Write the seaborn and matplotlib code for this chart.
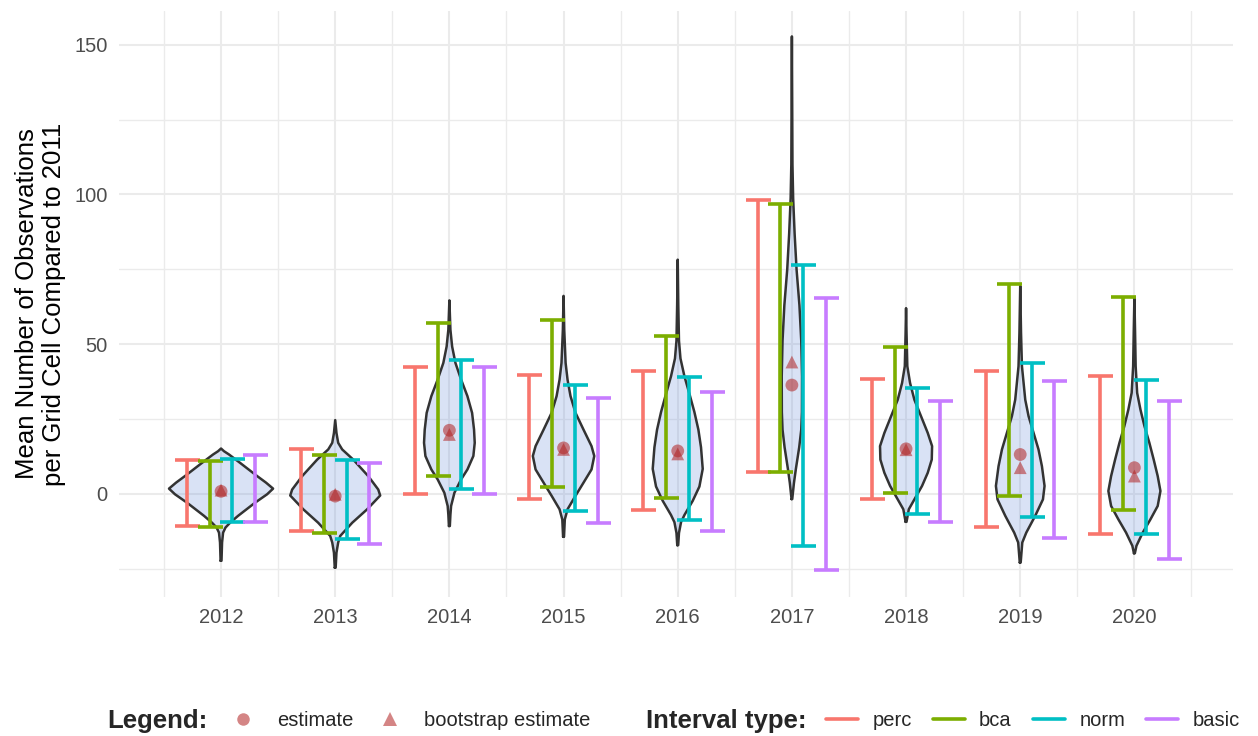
import numpy as np
import pandas as pd
import matplotlib
matplotlib.use("Agg")
import matplotlib.pyplot as plt
from matplotlib.lines import Line2D
import seaborn as sns

# ---------------- data ----------------
years = ["2012", "2013", "2014", "2015", "2016", "2017", "2018", "2019", "2020"]

estimate = [0.8, -0.8, 21.2, 15.3, 14.3, 36.3, 15.0, 13.1, 8.7]
boot_estimate = [1.2, -0.2, 19.8, 14.8, 13.3, 44.0, 14.7, 8.7, 5.9]

perc_low = [-10.8, -12.4, 0.0, -1.9, -5.4, 7.4, -1.9, -11.2, -13.6]
perc_high = [11.2, 14.8, 42.2, 39.8, 41.0, 98.3, 38.3, 41.0, 39.3]
bca_low = [-11.0, -13.0, 5.8, 2.3, -1.5, 7.4, 0.3, -0.8, -5.4]
bca_high = [10.9, 13.1, 57.2, 58.0, 52.6, 96.7, 48.9, 70.0, 65.8]
norm_low = [-9.3, -15.0, 1.6, -5.8, -8.7, -17.5, -6.7, -7.7, -13.6]
norm_high = [11.7, 11.2, 44.7, 36.2, 38.9, 76.5, 35.2, 43.7, 37.9]
basic_low = [-9.3, -16.9, 0.0, -9.9, -12.5, -25.6, -9.3, -14.7, -21.9]
basic_high = [12.8, 10.3, 42.2, 31.9, 33.9, 65.4, 31.1, 37.6, 31.0]

interval_types = ["perc", "bca", "norm", "basic"]

# violin density profiles (value level, half-width in category units)
v2012_y = [-22.4, -16.3, -13.0, -11.3, -9.7, -7.4, -3.0, -0.2, 1.7, 3.7, 5.9, 10.3, 13.1, 14.2, 15.1]
v2012_w = [0.004, 0.009, 0.018, 0.039, 0.079, 0.149, 0.298, 0.403, 0.456, 0.394, 0.316, 0.167, 0.070, 0.026, 0.0]
v2013_y = [-24.7, -19.7, -16.3, -14.1, -9.7, -5.2, -0.6, 1.4, 5.9, 11.4, 14.8, 17.0, 20.3, 24.6]
v2013_w = [0.004, 0.011, 0.026, 0.044, 0.149, 0.280, 0.394, 0.377, 0.289, 0.158, 0.061, 0.026, 0.011, 0.0]
v2014_y = [-10.8, -7.0, -4.1, 0.3, 4.8, 8.1, 12.6, 17.0, 21.4, 27.0, 32.6, 38.1, 43.7, 49.2, 54.8, 64.6]
v2014_w = [0.004, 0.009, 0.015, 0.044, 0.103, 0.158, 0.210, 0.222, 0.216, 0.199, 0.158, 0.103, 0.053, 0.024, 0.009, 0.0]
v2015_y = [-14.4, -8.6, -5.2, -0.8, 3.7, 8.1, 12.6, 15.9, 21.4, 27.0, 32.6, 38.1, 43.7, 54.8, 66.1]
v2015_w = [0.004, 0.011, 0.035, 0.103, 0.175, 0.245, 0.269, 0.245, 0.175, 0.105, 0.061, 0.035, 0.018, 0.006, 0.0]
v2016_y = [-17.2, -13.1, -9.5, -7.1, -2.4, 2.4, 8.3, 15.5, 21.4, 27.3, 33.3, 39.2, 45.2, 51.1, 63.0, 78.2]
v2016_w = [0.004, 0.011, 0.029, 0.059, 0.131, 0.190, 0.219, 0.204, 0.181, 0.146, 0.103, 0.059, 0.024, 0.011, 0.005, 0.0]
v2017_y = [-1.8, 3.6, 8.3, 15.5, 21.4, 27.3, 39.2, 51.1, 63.0, 74.9, 86.8, 98.7, 110.0, 152.8]
v2017_w = [0.003, 0.018, 0.035, 0.064, 0.082, 0.088, 0.089, 0.082, 0.066, 0.041, 0.024, 0.011, 0.005, 0.0]
v2018_y = [-9.4, -5.2, -1.9, 2.6, 7.0, 11.4, 15.9, 20.3, 25.9, 31.4, 37.0, 42.6, 53.7, 62.0]
v2018_w = [0.004, 0.024, 0.073, 0.140, 0.190, 0.225, 0.228, 0.190, 0.131, 0.073, 0.035, 0.011, 0.004, 0.0]
v2019_y = [-23.0, -16.3, -13.0, -7.4, -1.9, 2.6, 9.2, 14.8, 20.3, 25.9, 31.4, 42.6, 53.7, 69.4]
v2019_w = [0.004, 0.018, 0.053, 0.131, 0.199, 0.213, 0.190, 0.160, 0.117, 0.073, 0.044, 0.015, 0.007, 0.0]
v2020_y = [-19.9, -17.4, -13.0, -8.6, -4.1, 0.9, 5.9, 11.4, 17.0, 22.6, 28.1, 33.7, 42.6, 53.7, 65.4]
v2020_w = [0.004, 0.018, 0.073, 0.140, 0.204, 0.228, 0.204, 0.169, 0.131, 0.088, 0.053, 0.024, 0.011, 0.006, 0.0]

violin_levels = [v2012_y, v2013_y, v2014_y, v2015_y, v2016_y, v2017_y, v2018_y, v2019_y, v2020_y]
violin_widths = [v2012_w, v2013_w, v2014_w, v2015_w, v2016_w, v2017_w, v2018_w, v2019_w, v2020_w]

# ---------------- style ----------------
sns.set_theme(style="white")
plt.rcParams["font.family"] = ["Liberation Sans", "DejaVu Sans"]

interval_colors = ["#F8766D", "#7CAE00", "#00BFC4", "#C77CFF"]
interval_offsets = [-0.3, -0.1, 0.1, 0.3]
point_color = "#B22222"
point_alpha = 0.55
violin_fill = "#6A8FD8"
grid_color = "#EBEBEB"
tick_color = "#4D4D4D"

fig = plt.figure(figsize=(12.58, 7.36), dpi=100)
ax = fig.add_axes([0.0943, 0.1889, 0.8855, 0.7962])

pos = np.arange(len(years))

# violins
for i in range(len(years)):
    yv = np.array(violin_levels[i])
    wv = np.array(violin_widths[i])
    ax.fill_betweenx(yv, pos[i] - wv, pos[i] + wv, color=violin_fill, alpha=0.25,
                     lw=0, zorder=2)
    ox = np.concatenate([pos[i] - wv, (pos[i] + wv)[::-1], [pos[i] - wv[0]]])
    oy = np.concatenate([yv, yv[::-1], [yv[0]]])
    ax.plot(ox, oy, color="#333333", lw=1.8, zorder=2.5, solid_joinstyle="round")

# error bars
lows = [perc_low, bca_low, norm_low, basic_low]
highs = [perc_high, bca_high, norm_high, basic_high]
for k, name in enumerate(interval_types):
    lo = np.array(lows[k])
    hi = np.array(highs[k])
    mid = (lo + hi) / 2
    ax.errorbar(pos + interval_offsets[k], mid, yerr=[mid - lo, hi - mid], fmt="none",
                ecolor=interval_colors[k], elinewidth=2.6, capsize=9, capthick=2.6,
                zorder=3)

# points
pts = pd.DataFrame({
    "pos": np.concatenate([pos, pos]),
    "value": estimate + boot_estimate,
    "kind": ["estimate"] * len(years) + ["bootstrap estimate"] * len(years),
})
sns.scatterplot(data=pts, x="pos", y="value", style="kind",
                markers={"estimate": "o", "bootstrap estimate": "^"},
                color=point_color, alpha=point_alpha, s=85, linewidth=0,
                legend=False, ax=ax, zorder=4)

# axes
ax.set_xlim(-0.897, 8.86)
ax.set_ylim(-34.5, 161.3)
ax.set_xticks(pos)
ax.set_xticklabels(years)
ax.set_xticks(np.arange(-0.5, len(years), 1.0), minor=True)
ax.set_yticks([0, 50, 100, 150])
ax.set_yticks([-25, 25, 75, 125], minor=True)
ax.grid(which="major", color=grid_color, lw=1.5)
ax.grid(which="minor", color=grid_color, lw=1.0)
ax.set_axisbelow(True)
for s in ax.spines.values():
    s.set_visible(False)
ax.tick_params(which="both", length=0)
ax.tick_params(axis="x", pad=8, labelsize=14.5, labelcolor=tick_color)
ax.tick_params(axis="y", pad=8, labelsize=14.5, labelcolor=tick_color)
ax.set_xlabel("")
ax.set_ylabel("Mean Number of Observations\nper Grid Cell Compared to 2011",
              fontsize=18.5, color="black", labelpad=6, linespacing=1.15)

# legends
ly = 1 - 721 / 736
fig.text(107 / 1258, ly, "Legend:", fontsize=18.5, fontweight="bold",
         ha="left", va="center")
h1 = [Line2D([], [], marker="o", ls="", color=point_color, alpha=point_alpha,
             markersize=9, markeredgewidth=0),
      Line2D([], [], marker="^", ls="", color=point_color, alpha=point_alpha,
             markersize=10, markeredgewidth=0)]
leg1 = fig.legend(h1, ["estimate", "bootstrap estimate"], loc="center left",
                  bbox_to_anchor=(233 / 1258, ly), ncol=2, frameon=False,
                  fontsize=14.5, handlelength=1.0, handletextpad=1.2,
                  columnspacing=1.3, borderpad=0, borderaxespad=0)

fig.text(646 / 1258, ly, "Interval type:", fontsize=18.5, fontweight="bold",
         ha="left", va="center")
h2 = [Line2D([], [], color=c, lw=2.6) for c in interval_colors]
leg2 = fig.legend(h2, interval_types, loc="center left",
                  bbox_to_anchor=(826 / 1258, ly), ncol=4, frameon=False,
                  fontsize=14.5, handlelength=1.6, handletextpad=0.7,
                  columnspacing=1.05, borderpad=0, borderaxespad=0)

fig.savefig("out.png", dpi=100)
